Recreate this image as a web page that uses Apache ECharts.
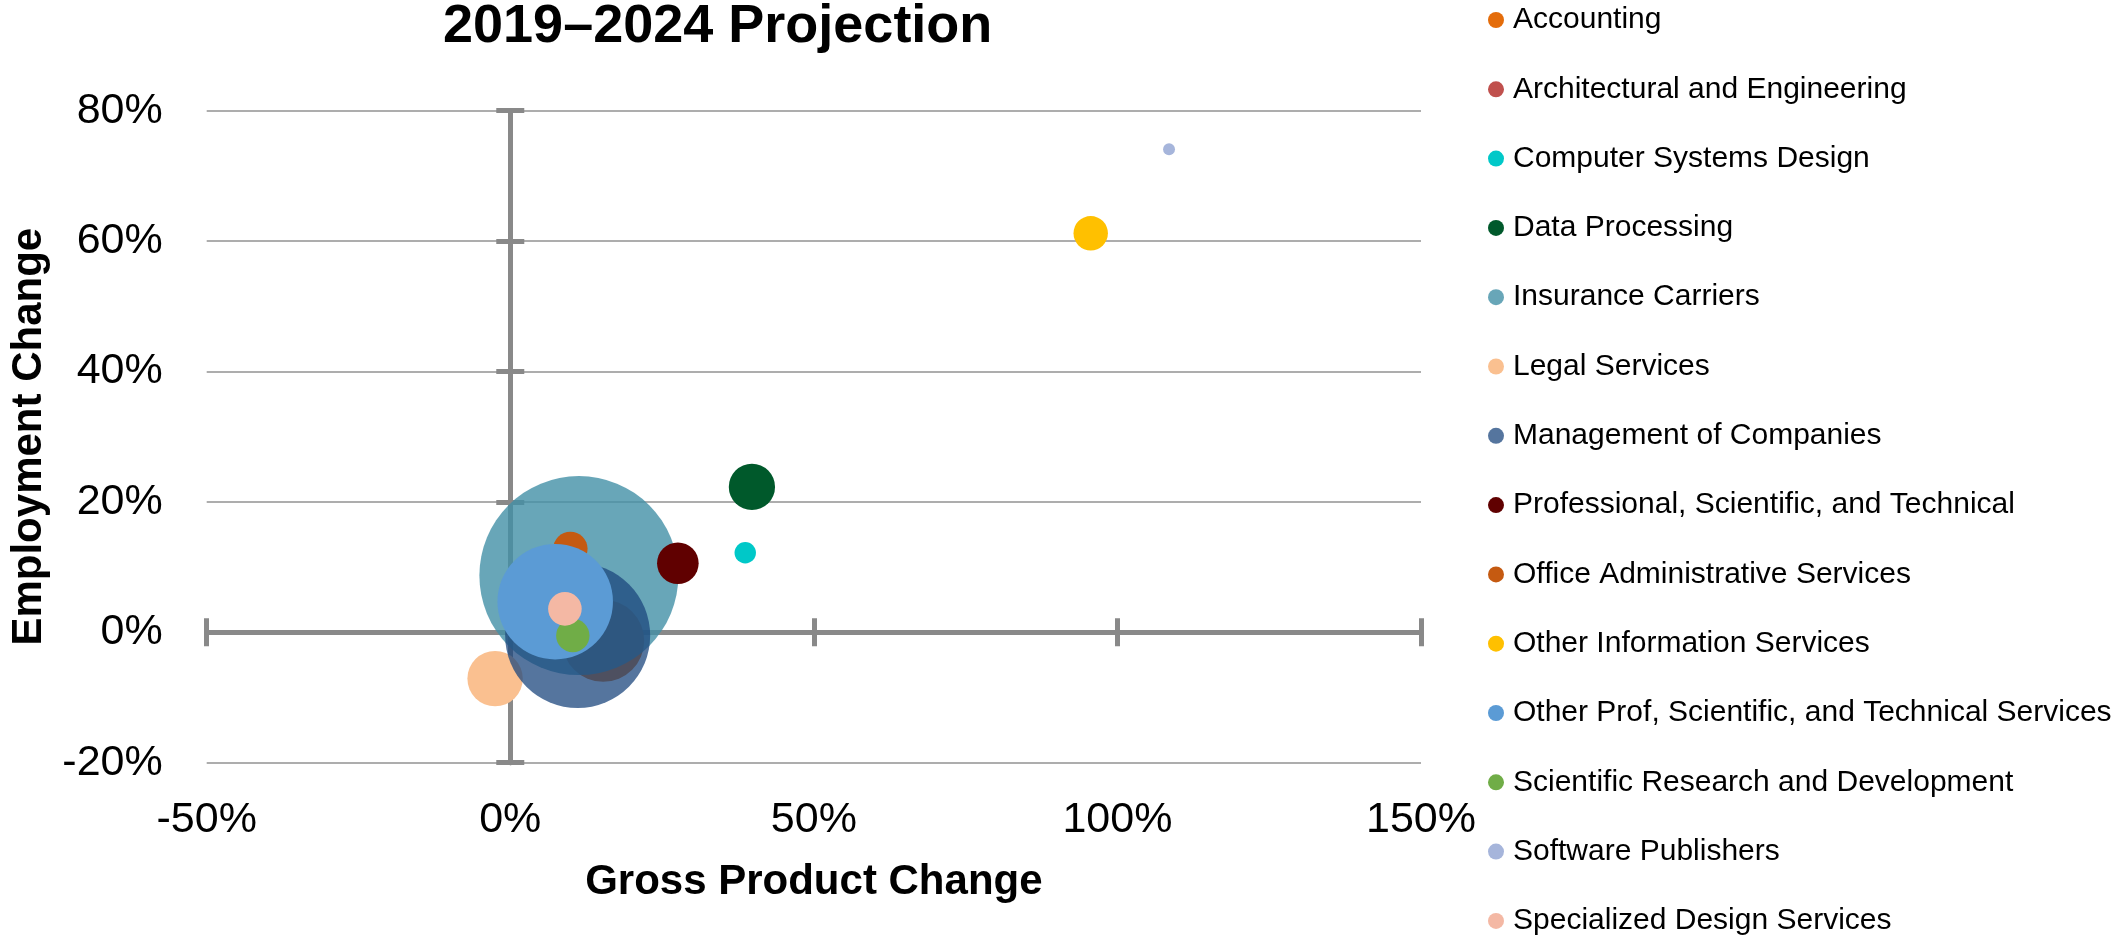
<!DOCTYPE html>
<html>
<head>
<meta charset="utf-8">
<title>2019–2024 Projection</title>
<script src="https://cdn.jsdelivr.net/npm/echarts@6/dist/echarts.min.js"></script>
<style>
  html, body { margin: 0; padding: 0; background: #ffffff; }
  #chart { width: 2118px; height: 936px; }
</style>
</head>
<body>
<div id="chart"></div>
<script>
// Industries, in legend / drawing order
const industries = [
  'Accounting',
  'Architectural and Engineering',
  'Computer Systems Design',
  'Data Processing',
  'Insurance Carriers',
  'Legal Services',
  'Management of Companies',
  'Professional, Scientific, and Technical',
  'Office Administrative Services',
  'Other Information Services',
  'Other Prof, Scientific, and Technical Services',
  'Scientific Research and Development',
  'Software Publishers',
  'Specialized Design Services'
];

// Gross product change 2019–2024 (%)
const gdpChange = [15.3, 6.0, 38.7, 39.8, 11.3, -2.5, 11.1, 27.6, 9.9, 95.6, 7.4, 10.3, 108.5, 9.0];

// Employment change 2019–2024 (%)
const employmentChange = [-1.3, 6.0, 12.2, 22.3, 8.7, -7.1, -0.5, 10.6, 12.8, 61.2, 4.7, -0.5, 74.1, 3.6];

// Relative industry size (bubble area)
const bubbleSize = [17.0, 3.3, 1.16, 5.4, 100, 7.75, 53.1, 4.37, 2.99, 2.99, 33.7, 2.82, 0.36, 2.85];

// Axis tick values (%)
const xTickValues = [-50, 0, 50, 100, 150];
const yTickValues = [-20, 0, 20, 40, 60, 80];

// Series colours
const palette = [
  '#E46C0A', '#C0504D', '#00C8C8', '#00592B', 'rgba(66,144,166,0.8)',
  '#FAC090', 'rgba(28,71,126,0.75)', '#600000', '#C55A11', '#FFC000',
  '#5B9BD5', '#70AD47', '#A6B5DB', '#F4B8A4'
];

const FONT = "'Liberation Sans', Arial, Helvetica, sans-serif";
const AXIS_GREY = '#898989';
const GRID_GREY = '#ADADAD';
const SIZE_SCALE = 19.9; // bubble diameter (px) per sqrt of size unit

const xRange = { min: xTickValues[0], max: xTickValues[xTickValues.length - 1], interval: xTickValues[1] - xTickValues[0] };
const yRange = { min: yTickValues[0], max: yTickValues[yTickValues.length - 1], interval: yTickValues[1] - yTickValues[0] };

// An axis that only draws the line through zero with ticks on one side
function zeroLineAxis(range, position) {
  return Object.assign({
    type: 'value',
    position: position,
    axisLine: { show: true, onZero: true, onZeroAxisIndex: 0, lineStyle: { color: AXIS_GREY, width: 5 } },
    axisTick: { show: true, length: 14, lineStyle: { color: AXIS_GREY, width: 5 } },
    axisLabel: { show: false },
    splitLine: { show: false }
  }, range);
}

const labelStyle = { fontFamily: FONT, fontSize: 43, color: '#000000' };
const nameStyle = { fontFamily: FONT, fontSize: 42, fontWeight: 'bold', color: '#000000' };

const chart = echarts.init(document.getElementById('chart'), null, { renderer: 'canvas' });

chart.setOption({
  animation: false,
  backgroundColor: '#ffffff',
  title: {
    text: '2019–2024 Projection',
    left: 443,
    top: 0,
    padding: 0,
    textStyle: { fontFamily: FONT, fontSize: 54, fontWeight: 'bold', color: '#000000' }
  },
  legend: {
    orient: 'vertical',
    left: 1488,
    top: 5,
    height: 2000,
    padding: 0,
    icon: 'circle',
    itemWidth: 24,
    itemHeight: 16,
    itemGap: 39.3,
    selectedMode: false,
    textStyle: { fontFamily: FONT, fontSize: 30, color: '#000000' },
    data: industries
  },
  grid: {
    left: 206.7,
    right: 697,
    top: 110.7,
    bottom: 173.3,
    containLabel: false,
    outerBoundsMode: 'none'
  },
  xAxis: [
    Object.assign({
      type: 'value',
      position: 'bottom',
      name: 'Gross Product Change',
      nameLocation: 'middle',
      nameGap: 99,
      nameTextStyle: nameStyle,
      axisLine: { show: false, onZero: false },
      axisTick: { show: false },
      splitLine: { show: false },
      axisLabel: Object.assign({ formatter: '{value}%', margin: 36 }, labelStyle)
    }, xRange),
    zeroLineAxis(xRange, 'bottom'),
    zeroLineAxis(xRange, 'top')
  ],
  yAxis: [
    Object.assign({
      type: 'value',
      position: 'left',
      name: 'Employment Change',
      nameLocation: 'middle',
      nameGap: 156,
      nameTextStyle: nameStyle,
      axisLine: { show: false, onZero: false },
      axisTick: { show: false },
      splitLine: { show: true, lineStyle: { color: GRID_GREY, width: 2 } },
      axisLabel: Object.assign({ formatter: '{value}%', margin: 44 }, labelStyle)
    }, yRange),
    zeroLineAxis(yRange, 'left'),
    zeroLineAxis(yRange, 'right')
  ],
  series: industries.map((name, i) => ({
    type: 'scatter',
    name: name,
    xAxisIndex: 0,
    yAxisIndex: 0,
    data: [[gdpChange[i], employmentChange[i], bubbleSize[i]]],
    symbol: 'circle',
    symbolSize: v => SIZE_SCALE * Math.sqrt(v[2]),
    itemStyle: { color: palette[i], opacity: 1 },
    emphasis: { disabled: true },
    tooltip: { show: false }
  }))
});
</script>
</body>
</html>
